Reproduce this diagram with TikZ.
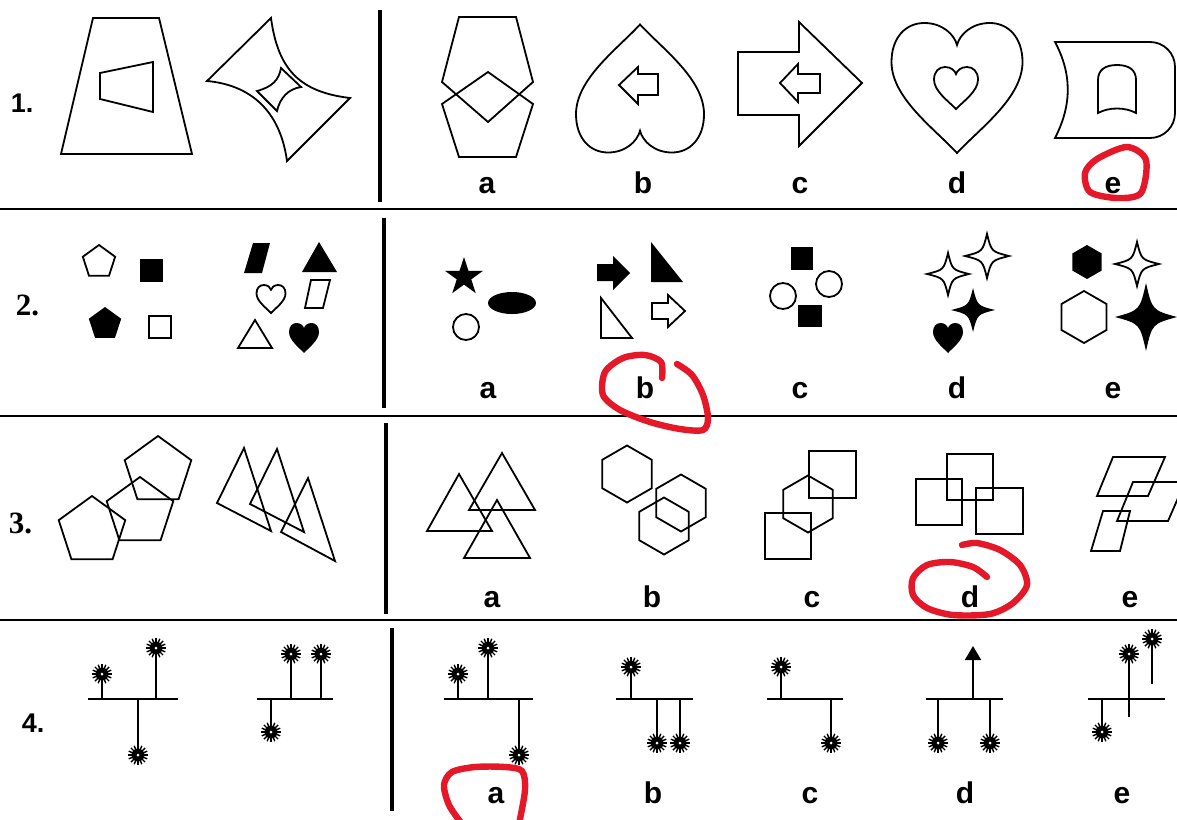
\documentclass[tikz,border=0pt]{standalone}
\usepackage{fontspec}
\setmainfont{Liberation Serif}
\setsansfont{Liberation Sans}
\usetikzlibrary{arrows.meta}
\definecolor{pen}{RGB}{228,24,40}

\begin{document}
\begin{tikzpicture}[x=0.5pt, y=-0.5pt, line width=0.9pt, line join=miter,
    rule/.style={line width=0.8pt},
    sep/.style={line width=1.6pt},
    blk/.style={fill=black},
    qnum/.style={font=\bfseries\fontsize{15.5}{17}\selectfont, anchor=base west, inner sep=0pt},
    qnumsf/.style={font=\sffamily\bfseries\fontsize{13.5}{15}\selectfont, anchor=base west, inner sep=0pt},
    opt/.style={font=\sffamily\bfseries\fontsize{15}{17}\selectfont, anchor=base, inner sep=0pt},
    pencil/.style={draw=pen, line width=3.2pt, line cap=round, line join=round},
    stem/.style={line width=1pt},
    heart/.pic={\path[pic actions] (0,1) .. controls (-0.35,0.62) and (-1,0.15) .. (-1,-0.4)
        .. controls (-1,-0.78) and (-0.78,-1) .. (-0.5,-1) .. controls (-0.22,-1) and (-0.04,-0.82) .. (0,-0.66)
        .. controls (0.04,-0.82) and (0.22,-1) .. (0.5,-1) .. controls (0.78,-1) and (1,-0.78) .. (1,-0.4)
        .. controls (1,0.15) and (0.35,0.62) .. (0,1) -- cycle;},
    pentagon/.pic={\path[pic actions] (-90:1) -- (-18:1) -- (54:1) -- (126:1) -- (198:1) -- cycle;},
    hexagon/.pic={\path[pic actions] (-90:1) -- (-30:1) -- (30:1) -- (90:1) -- (150:1) -- (210:1) -- cycle;},
    starfive/.pic={\path[pic actions] (-90:1) -- (-54:0.38) -- (-18:1) -- (18:0.38) -- (54:1) -- (90:0.38)
        -- (126:1) -- (162:0.38) -- (198:1) -- (234:0.38) -- cycle;},
    starfour/.pic={\path[pic actions] (0,-1) .. controls (0.2,-0.2) .. (1,0) .. controls (0.2,0.2) .. (0,1)
        .. controls (-0.2,0.2) .. (-1,0) .. controls (-0.2,-0.2) .. (0,-1) -- cycle;},
    flower/.pic={\foreach \a in {0,22.5,...,337.5} \draw[line width=0.7pt] (0,0) -- (\a:10);
        \fill (0,0) circle (6.5); \fill[white] (0,0) circle (1.5);}]
    \useasboundingbox (0,0) rectangle (1177,819);

    \draw[rule] (0,209) -- (1177,209);
    \draw[rule] (0,416) -- (1177,416);
    \draw[rule] (0,620) -- (1177,620);
    \draw[sep] (380,10) -- (380,202);
    \draw[sep] (384,218) -- (384,408);
    \draw[sep] (386,423) -- (386,614);
    \draw[sep] (392,628) -- (392,811);

    \node[qnumsf] (n1) at (10,112) {1.};
    \node[qnum] (n2) at (15,315) {2.};
    \node[qnum] (n3) at (8,533) {3.};
    \node[qnumsf] (n4) at (21,732) {4.};

    % row 1
    \draw (93,18) -- (159,18) -- (192,154) -- (61,154) -- cycle;
    \draw (100,73) -- (153,62) -- (153,112) -- (100,99) -- cycle;
    \draw (207,81) -- (271,18) .. controls (278,70) and (300,92) .. (350,98) -- (287,161)
        .. controls (280,110) and (250,85) .. cycle;
    \draw (257,91) .. controls (272,87) and (279,80) .. (281,68) -- (301,87)
        .. controls (288,89) and (280,98) .. (277,111) -- cycle;

    \draw (459,17) -- (516,17) -- (533,82) -- (488,122) -- (442,82) -- cycle;
    \draw (459,157) -- (516,157) -- (533,104) -- (488,72) -- (442,104) -- cycle;
    \pic[draw, xscale=64, yscale=-64] at (640,88.5) {heart};
    \draw (619,85) -- (638,67) -- (638,74) -- (658,74) -- (658,95) -- (638,95) -- (638,104) -- cycle;
    \draw (738,52) -- (799,52) -- (799,22) -- (862,83) -- (799,146) -- (799,115) -- (738,115) -- cycle;
    \draw (780,83) -- (798,64) -- (798,74) -- (820,74) -- (820,93) -- (798,93) -- (798,102) -- cycle;
    \pic[draw, xscale=65.5, yscale=65] at (957,88) {heart};
    \pic[draw, xscale=22, yscale=21] at (956,88) {heart};
    \draw (1055,42) -- (1150,42) arc[start angle=-90, end angle=0, radius=25] -- (1175,113)
        arc[start angle=0, end angle=90, radius=25] -- (1055,138)
        .. controls (1072,105) and (1072,74) .. cycle;
    \draw (1098,113) -- (1098,80) .. controls (1098,70) and (1105,65) .. (1117,65)
        .. controls (1129,65) and (1136,70) .. (1136,80) -- (1136,113)
        .. controls (1125,107) and (1109,107) .. cycle;

    \node[opt] (r1a) at (487,193) {a};
    \node[opt] (r1b) at (643,193) {b};
    \node[opt] (r1c) at (800,193) {c};
    \node[opt] (r1d) at (957,193) {d};
    \node[opt] (r1e) at (1113,193) {e};

    % row 2
    \pic[draw, scale=17] at (99,262) {pentagon};
    \fill (140,259) rectangle (163,282);
    \pic[blk, scale=17] at (105,324) {pentagon};
    \draw (149,316) rectangle (171,338);
    \fill (253,243) -- (270,243) -- (262,273) -- (244,273) -- cycle;
    \fill (319,242) -- (337,272) -- (302,272) -- cycle;
    \pic[draw, xscale=14.5, yscale=14] at (271,299) {heart};
    \draw (311,280) -- (330,280) -- (323,308) -- (305,308) -- cycle;
    \draw (255,320) -- (272,348) -- (238,348) -- cycle;
    \pic[blk, scale=15] at (304,338) {heart};

    \pic[blk, scale=20] at (464,277) {starfive};
    \fill (512,303) ellipse[x radius=24, y radius=11];
    \draw (466,327) circle (13);
    \fill (597,264) -- (613,264) -- (613,256) -- (630,273) -- (613,290) -- (613,281) -- (597,281) -- cycle;
    \fill (651,242) -- (683,282) -- (651,282) -- cycle;
    \draw (601,298) -- (632,338) -- (601,338) -- cycle;
    \draw (652,303) -- (668,303) -- (668,295) -- (685,311) -- (668,327) -- (668,319) -- (652,319) -- cycle;
    \fill (791,247) rectangle (813,270);
    \draw (829,284) circle (13);
    \draw (783,296) circle (13);
    \fill (798,305) rectangle (822,327);
    \pic[draw, scale=21] at (948,274) {starfour};
    \pic[draw, scale=22] at (987,256) {starfour};
    \pic[blk, scale=22] at (973,310) {starfour};
    \pic[blk, scale=15] at (948,338) {heart};
    \pic[blk, scale=17] at (1087,262) {hexagon};
    \pic[draw, scale=22] at (1137,264) {starfour};
    \pic[draw, scale=26] at (1084,317) {hexagon};
    \pic[blk, xscale=31, yscale=34] at (1146,317) {starfour};

    \node[opt] (r2a) at (488,398) {a};
    \node[opt] (r2b) at (645,398) {b};
    \node[opt] (r2c) at (800,398) {c};
    \node[opt] (r2d) at (957,398) {d};
    \node[opt] (r2e) at (1113,398) {e};

    % row 3
    \pic[draw, scale=35] at (158,471) {pentagon};
    \pic[draw, scale=35] at (140,512) {pentagon};
    \pic[draw, scale=35] at (92,531) {pentagon};
    \draw (244,448) -- (271,531) -- (217,503) -- cycle;
    \draw (277,449) -- (304,532) -- (250,504) -- cycle;
    \draw (308,478) -- (335,561) -- (281,532) -- cycle;

    \draw (459,474) -- (492,531) -- (427,531) -- cycle;
    \draw (502,453) -- (535,510) -- (469,510) -- cycle;
    \draw (497,500) -- (530,558) -- (464,558) -- cycle;
    \pic[draw, scale=28.5] at (627,474) {hexagon};
    \pic[draw, scale=28.5] at (681,503) {hexagon};
    \pic[draw, scale=28.5] at (664,526) {hexagon};
    \draw (809,451) rectangle (856,498);
    \pic[draw, scale=28.5] at (808,504) {hexagon};
    \draw (765,513) rectangle (811,559);
    \draw (916,479) rectangle (962,525);
    \draw (947,454) rectangle (993,500);
    \draw (976,488) rectangle (1023,534);
    \draw (1113,457) -- (1165,457) -- (1148,496) -- (1097,496) -- cycle;
    \draw (1133,482) -- (1185,482) -- (1168,521) -- (1117,521) -- cycle;
    \draw (1103,511) -- (1130,511) -- (1120,551) -- (1091,551) -- cycle;

    \node[opt] (r3a) at (492,607) {a};
    \node[opt] (r3b) at (652,607) {b};
    \node[opt] (r3c) at (812,607) {c};
    \node[opt] (r3d) at (970,607) {d};
    \node[opt] (r3e) at (1130,607) {e};

    % row 4
    \draw[stem] (88,699) -- (178,699);
    \draw[stem] (102,699) -- (102,674) pic {flower};
    \draw[stem] (156,699) -- (156,648) pic {flower};
    \draw[stem] (138,699) -- (138,755) pic {flower};
    \draw[stem] (257,699) -- (333,699);
    \draw[stem] (291,699) -- (291,654) pic {flower};
    \draw[stem] (321,699) -- (321,654) pic {flower};
    \draw[stem] (271,699) -- (271,732) pic {flower};

    \draw[stem] (444,699) -- (533,699);
    \draw[stem] (458,699) -- (458,674) pic {flower};
    \draw[stem] (488,699) -- (488,648) pic {flower};
    \draw[stem] (519,699) -- (519,755) pic {flower};
    \draw[stem] (616,699) -- (693,699);
    \draw[stem] (631,699) -- (631,667) pic {flower};
    \draw[stem] (657,699) -- (657,743) pic {flower};
    \draw[stem] (680,699) -- (680,743) pic {flower};
    \draw[stem] (767,699) -- (843,699);
    \draw[stem] (781,699) -- (781,667) pic {flower};
    \draw[stem] (831,699) -- (831,743) pic {flower};
    \draw[stem] (926,699) -- (1003,699);
    \draw[stem, -{Triangle[width=8pt, length=7pt]}] (973,699) -- (973,646);
    \draw[stem] (938,699) -- (938,743) pic {flower};
    \draw[stem] (990,699) -- (990,743) pic {flower};
    \draw[stem] (1088,699) -- (1165,699);
    \draw[stem] (1129,717) -- (1129,654) pic {flower};
    \draw[stem] (1152,684) -- (1152,639) pic {flower};
    \draw[stem] (1102,699) -- (1102,732) pic {flower};

    \node[opt] (r4a) at (496,803) {a};
    \node[opt] (r4b) at (653,803) {b};
    \node[opt] (r4c) at (810,803) {c};
    \node[opt] (r4d) at (965,803) {d};
    \node[opt] (r4e) at (1122,803) {e};

    \draw[pencil] plot[smooth cycle] coordinates {(1127,147) (1146,160) (1141,193) (1117,198) (1090,192)
        (1085,173) (1097,159)};
    \draw[pencil] plot[smooth] coordinates {(662,378) (661,362) (645,355) (623,358) (605,372) (603,395)
        (620,410) (650,422) (680,429) (703,430) (708,418) (703,395) (692,375) (677,364)};
    \draw[pencil] plot[smooth] coordinates {(987,577) (973,567) (950,562) (927,565) (913,578) (913,595)
        (927,608) (953,615) (990,614) (1013,603) (1027,585) (1020,565) (1000,550) (977,543) (962,545)};
    \draw[pencil] plot[smooth] coordinates {(462,824) (449,805) (444,785) (452,772) (475,767) (505,767)
        (522,771) (525,790) (519,824)};
\end{tikzpicture}
\end{document}
